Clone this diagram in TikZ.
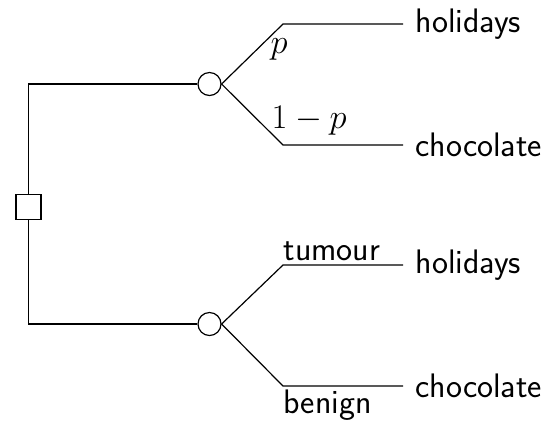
\documentclass[tikz,border=0pt]{standalone}
\begin{document}
\begin{tikzpicture}[x=0.5pt,y=-0.5pt,line width=0.6pt,
  decbox/.style={draw,rectangle,minimum size=12.5pt,inner sep=0pt},
  chance/.style={draw,circle,minimum size=11.5pt,inner sep=0pt},
  outcome/.style={anchor=west,inner xsep=6pt,inner ysep=0pt,font=\fontsize{17}{20}\selectfont\sffamily},
  lab/.style={anchor=base west,inner sep=0pt,font=\fontsize{17}{20}\selectfont\sffamily}]
\useasboundingbox (0,0) rectangle (544,420);
\node[decbox] (dec) at (28.5,207) {};
\node[chance] (c1) at (209.5,84) {};
\node[chance] (c2) at (209.5,324) {};
\coordinate (u1) at (283,24);
\coordinate (u2) at (283,145);
\coordinate (l1) at (283,265);
\coordinate (l2) at (283,386);
\node[outcome] (o1) at (403,24) {holidays};
\node[outcome] (o2) at (403,145) {chocolate};
\node[outcome] (o3) at (403,265) {holidays};
\node[outcome] (o4) at (403,386) {chocolate};
\draw (dec.north) |- (c1.west);
\draw (dec.south) |- (c2.west);
\draw (c1.east) -- (u1) -- (o1.west);
\draw (c1.east) -- (u2) -- (o2.west);
\draw (c2.east) -- (l1) -- (o3.west);
\draw (c2.east) -- (l2) -- (o4.west);
\node[lab] (pl) at (270,53) {$p$};
\node[lab] (ql) at (271,128) {$1-p$};
\node[lab] (tl) at (283,260) {tumour};
\node[lab] (bl) at (283,413) {benign};
\end{tikzpicture}
\end{document}
